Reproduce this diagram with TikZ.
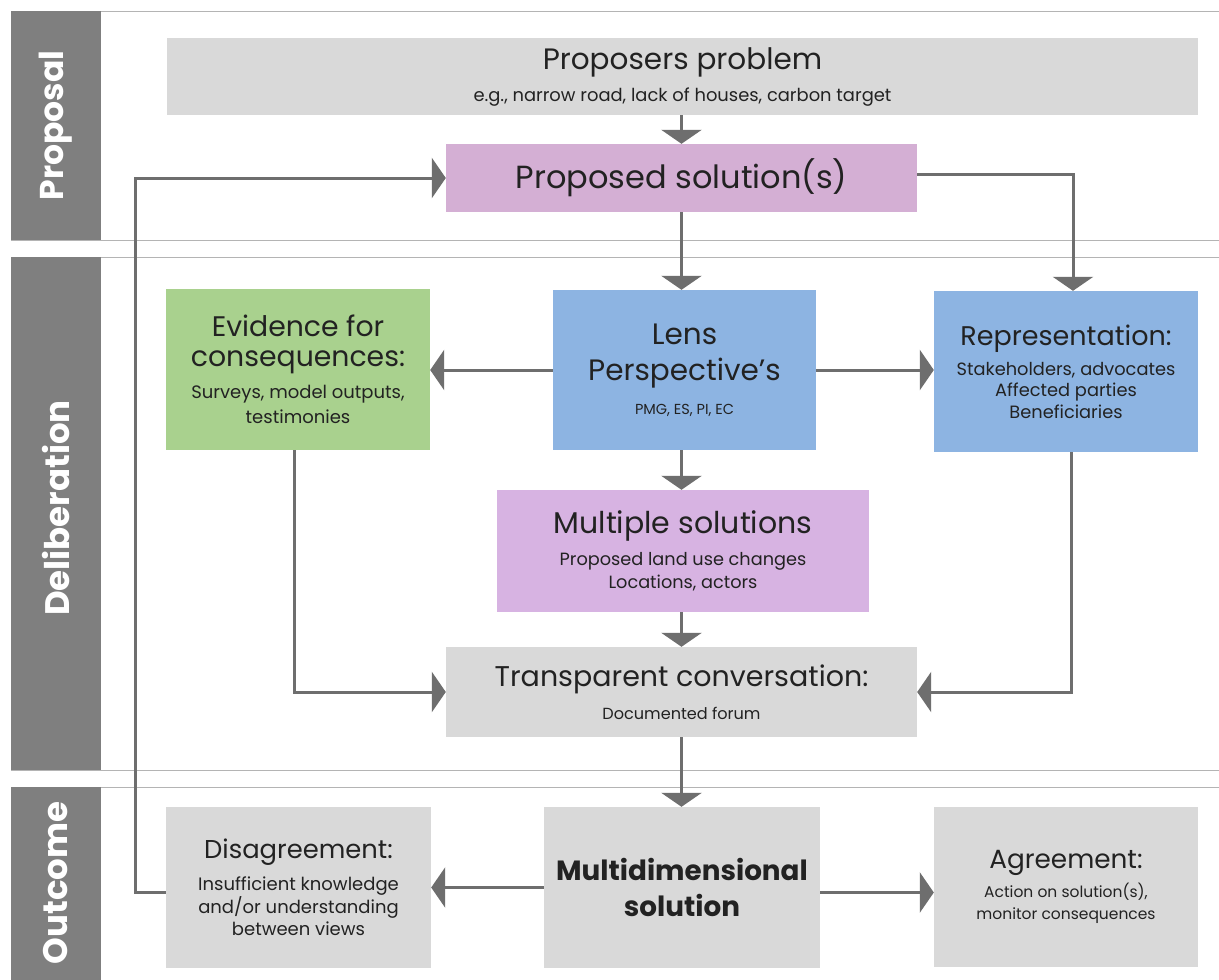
\documentclass[tikz,border=0pt]{standalone}
\usepackage{fontspec}
\setmainfont{Poppins}
\usetikzlibrary{arrows.meta}
\definecolor{boxgray}{HTML}{D9D9D9}
\definecolor{propurple}{HTML}{D4AFD4}
\definecolor{multpurple}{HTML}{D7B3E2}
\definecolor{lensblue}{HTML}{8DB4E2}
\definecolor{evgreen}{HTML}{A9D18E}
\definecolor{sidegray}{HTML}{7F7F7F}
\definecolor{arrowgray}{HTML}{6E6E6E}
\definecolor{sepgray}{HTML}{B4B4B4}
\definecolor{txt}{HTML}{222222}
\newcommand{\fs}[1]{\fontsize{#1bp}{#1bp}\selectfont}
\newcommand{\tightlines}{\fontsize{10bp}{0bp}\selectfont\lineskiplimit=-1000bp\relax\lineskip=0bp\relax}
\tikzset{
  box/.style={rectangle, draw=none, inner sep=0pt, align=center, text=txt, font=\tightlines},
  arr/.style={draw=arrowgray, line width=3bp, -{Triangle[width=40bp,length=14bp]}},
  sep/.style={draw=sepgray, line width=1bp},
  sidebar/.style={fill=sidegray, draw=none},
  sidelabel/.style={text=white, font=\fs{34}\bfseries, rotate=90}
}
\begin{document}
\begin{tikzpicture}[x=1bp,y=-1bp]
\useasboundingbox (0,0) rectangle (1219,980);
\fill[white] (0,0) rectangle (1219,980);
% sidebars
\fill[sidebar] (11,11) rectangle (101,240);
\fill[sidebar] (11,257) rectangle (101,770);
\fill[sidebar] (11,787) rectangle (101,980);
\node[sidelabel, font=\fs{33}\bfseries] (lprop) at (56,125.5) {Proposal};
\node[sidelabel] (ldel) at (56,508) {Deliberation};
\node[sidelabel] (lout) at (56,883) {Outcome};
% separators
\draw[sep] (101,11) -- (1219,11);
\draw[sep] (11,240) -- (1219,240);
\draw[sep] (101,257) -- (1219,257);
\draw[sep] (11,770) -- (1219,770);
\draw[sep] (101,787) -- (1219,787);
% boxes
\node[box, fill=boxgray, minimum width=1031bp, minimum height=77bp] (prob) at (682.5,76.5)
  {{\fs{29.5}Proposers problem}\\[32bp]{\fs{17.9}e.g., narrow road, lack of houses, carbon target}};
\node[box, fill=propurple, minimum width=471bp, minimum height=68bp] (prop) at (681.5,178)
  {{\fs{32}Proposed solution(s)}};
\node[box, fill=evgreen, minimum width=264bp, minimum height=161bp] (evid) at (298,369.5)
  {{\fs{28.3}Evidence for}\\[30bp]{\fs{28.3}consequences:}\\[32bp]{\fs{18}Surveys, model outputs,}\\[25bp]{\fs{18}testimonies}};
\node[box, fill=lensblue, minimum width=263bp, minimum height=160bp] (lens) at (684.5,370)
  {{\fs{29.5}Lens}\\[36bp]{\fs{29.5}Perspective's}\\[34bp]{\fs{14.5}PMG, ES, PI, EC}};
\node[box, fill=lensblue, minimum width=264bp, minimum height=161bp] (rep) at (1066,371.5)
  {{\fs{27}Representation:}\\[30bp]{\fs{17.8}Stakeholders, advocates}\\[21.5bp]{\fs{17.8}Affected parties}\\[21.5bp]{\fs{17.8}Beneficiaries}};
\node[box, fill=multpurple, minimum width=372bp, minimum height=122bp] (mult) at (683,551)
  {{\fs{30}Multiple solutions}\\[32bp]{\fs{17.7}Proposed land use changes}\\[23bp]{\fs{17.7}Locations, actors}};
\node[box, fill=boxgray, minimum width=471bp, minimum height=90bp] (trans) at (681.5,692)
  {{\fs{28.5}Transparent conversation:}\\[33bp]{\fs{16.1}Documented forum}};
\node[box, fill=boxgray, minimum width=265bp, minimum height=161bp] (dis) at (298.5,887.5)
  {{\fs{25.8}Disagreement:}\\[32bp]{\fs{18}Insufficient knowledge}\\[22.5bp]{\fs{18}and/or understanding}\\[22.5bp]{\fs{18}between views}};
\node[box, fill=boxgray, minimum width=276bp, minimum height=161bp] (md) at (682,887.5)
  {{\fs{27.8}\bfseries Multidimensional}\\[36bp]{\fs{27.8}\bfseries solution}};
\node[box, fill=boxgray, minimum width=264bp, minimum height=160bp] (agr) at (1066,887)
  {{\fs{26.3}Agreement:}\\[29bp]{\fs{15.5}Action on solution(s),}\\[22.5bp]{\fs{15.5}monitor consequences}};
% connectors
\draw[arr] (prob.south -| prop.north) -- (prop.north);
\draw[arr] (prop.south) -- (lens.north -| prop.south);
\draw[arr] ([yshift=4bp]prop.east) -| ([xshift=7bp]rep.north);
\draw[arr] (lens.west) -- (lens.west -| evid.east);
\draw[arr] (lens.east) -- (lens.east -| rep.west);
\draw[arr] (lens.south -| prop.south) -- (mult.north -| prop.south);
\draw[arr] ([xshift=-4bp]evid.south) |- (trans.west);
\draw[arr] ([xshift=5bp]rep.south) |- (trans.east);
\draw[arr] (mult.south -| trans.north) -- (trans.north);
\draw[arr] (trans.south) -- (md.north -| trans.south);
\draw[arr] (md.west) -- (dis.east);
\draw[arr] ([yshift=-5bp]md.east) -- ([yshift=-5bp]md.east -| agr.west);
\coordinate (loop) at (135,0);
\draw[arr] ([yshift=-5bp]dis.west) -- ([yshift=-5bp]dis.west -| loop) |- (prop.west);
\end{tikzpicture}
\end{document}
